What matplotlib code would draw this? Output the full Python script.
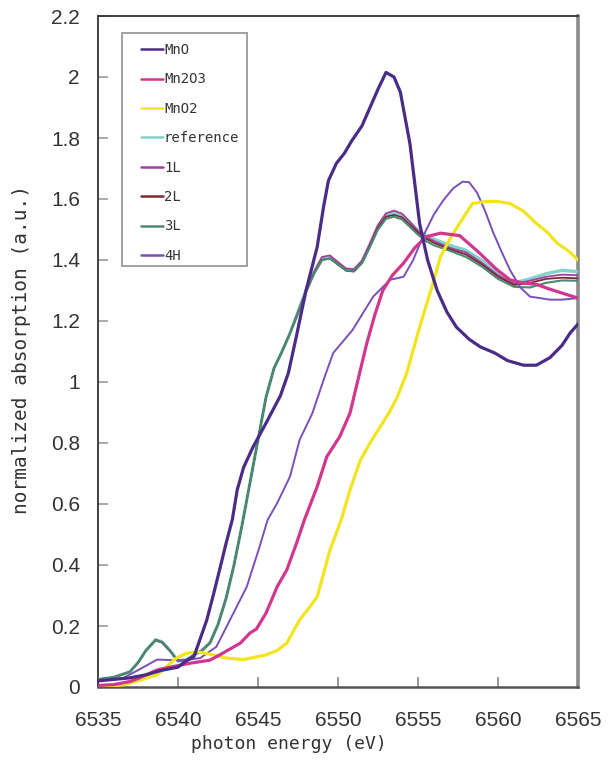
import matplotlib
matplotlib.use("Agg")
import matplotlib.pyplot as plt
from matplotlib.patches import Rectangle

# ---------------- data ----------------
labels = ["MnO", "Mn2O3", "MnO2", "reference", "1L", "2L", "3L", "4H"]

mno_e = [6535, 6536, 6537, 6538, 6539, 6540, 6540.5, 6541, 6541.4, 6541.8, 6542.2, 6542.6, 6543,
         6543.4, 6543.7, 6544.1, 6544.7, 6545.5, 6546.4, 6546.9, 6547.4, 6548, 6548.7, 6549.1,
         6549.4, 6549.9, 6550.4, 6550.85, 6551.5, 6552, 6552.5, 6553, 6553.5, 6553.9, 6554.5,
         6555.1, 6555.6, 6556.2, 6556.8, 6557.4, 6558.2, 6558.9, 6559.8, 6560.6, 6561.6, 6562.4,
         6563.25, 6564, 6564.5, 6565]
mno_y = [0.02, 0.025, 0.03, 0.04, 0.055, 0.065, 0.085, 0.10, 0.16, 0.22, 0.30, 0.384, 0.47,
         0.55, 0.646, 0.72, 0.788, 0.865, 0.955, 1.03, 1.15, 1.30, 1.443, 1.575,
         1.66, 1.717, 1.75, 1.79, 1.84, 1.90, 1.96, 2.015, 2.00, 1.95, 1.78,
         1.52, 1.40, 1.30, 1.23, 1.18, 1.14, 1.115, 1.095, 1.07, 1.055, 1.055,
         1.08, 1.12, 1.16, 1.19]

mn2o3_e = [6535, 6536, 6537, 6537.6, 6538.7, 6539.5, 6540.75, 6542, 6542.6, 6543.9, 6544.5,
           6544.9, 6545.5, 6546.2, 6546.8, 6547.4, 6547.9, 6548.7, 6549.3, 6550.1, 6550.75,
           6551.4, 6551.8, 6552.3, 6552.8, 6553.4, 6554.1, 6554.8, 6555.5, 6556.4, 6557.6,
           6558.7, 6559.9, 6560.75, 6561.5, 6562.4, 6563.2, 6564.1, 6565]
mn2o3_y = [0.005, 0.008, 0.018, 0.03, 0.056, 0.065, 0.078, 0.088, 0.105, 0.144, 0.177,
           0.19, 0.242, 0.329, 0.384, 0.47, 0.548, 0.657, 0.755, 0.82, 0.898,
           1.04, 1.127, 1.22, 1.30, 1.35, 1.39, 1.44, 1.476, 1.488, 1.48,
           1.43, 1.37, 1.335, 1.325, 1.32, 1.305, 1.29, 1.275]

mno2_e = [6535, 6536.6, 6537.5, 6538.7, 6539.9, 6540.5, 6541.2, 6542.2, 6543, 6544.1, 6545.5,
          6546.2, 6546.8, 6547.6, 6548.2, 6548.7, 6549.5, 6550.2, 6550.75, 6551.4, 6552,
          6552.6, 6553.2, 6553.7, 6554.3, 6555.1, 6555.8, 6556.4, 6557, 6557.6, 6558.4,
          6559.3, 6560, 6560.75, 6561.6, 6562.4, 6563.1, 6563.7, 6564.4, 6565]
mno2_y = [0.0, 0.007, 0.02, 0.04, 0.095, 0.11, 0.116, 0.105, 0.095, 0.09, 0.105,
          0.12, 0.144, 0.22, 0.26, 0.296, 0.449, 0.548, 0.646, 0.744, 0.80,
          0.85, 0.90, 0.95, 1.03, 1.18, 1.30, 1.41, 1.47, 1.52, 1.585,
          1.592, 1.592, 1.585, 1.56, 1.52, 1.49, 1.455, 1.43, 1.40]

grp_e = [6535, 6536, 6537, 6537.5, 6538, 6538.6, 6539, 6539.5, 6540, 6540.5, 6541, 6541.5,
         6542, 6542.5, 6543, 6543.5, 6544, 6544.5, 6545, 6545.5, 6546, 6546.5, 6547, 6547.5,
         6548, 6548.5, 6549, 6549.5, 6550, 6550.5, 6551, 6551.5, 6552, 6552.5, 6553, 6553.5,
         6554, 6554.5, 6555, 6555.5, 6556, 6557, 6558, 6559, 6560, 6561, 6562, 6563, 6564, 6565]
ref_y = [0.025, 0.032, 0.05, 0.08, 0.12, 0.155, 0.148, 0.12, 0.085, 0.088, 0.105, 0.12,
         0.145, 0.205, 0.29, 0.40, 0.53, 0.67, 0.81, 0.95, 1.045, 1.10, 1.16, 1.23,
         1.30, 1.36, 1.405, 1.41, 1.39, 1.37, 1.368, 1.395, 1.45, 1.51, 1.548, 1.556,
         1.548, 1.522, 1.497, 1.48, 1.468, 1.448, 1.432, 1.398, 1.355, 1.325, 1.338, 1.355, 1.366, 1.362]
l1_y = [0.025, 0.032, 0.05, 0.08, 0.12, 0.155, 0.148, 0.12, 0.085, 0.088, 0.105, 0.12,
        0.145, 0.205, 0.29, 0.40, 0.53, 0.67, 0.81, 0.95, 1.045, 1.10, 1.16, 1.23,
        1.30, 1.36, 1.41, 1.415, 1.393, 1.372, 1.37, 1.398, 1.455, 1.515, 1.553, 1.562,
        1.552, 1.525, 1.495, 1.475, 1.462, 1.44, 1.425, 1.39, 1.35, 1.322, 1.332, 1.345, 1.352, 1.35]
l2_y = [0.025, 0.032, 0.05, 0.08, 0.12, 0.153, 0.146, 0.118, 0.085, 0.088, 0.105, 0.12,
        0.145, 0.205, 0.29, 0.40, 0.53, 0.67, 0.81, 0.95, 1.045, 1.10, 1.16, 1.225,
        1.295, 1.355, 1.40, 1.405, 1.385, 1.365, 1.362, 1.39, 1.445, 1.505, 1.542, 1.548,
        1.54, 1.515, 1.49, 1.47, 1.456, 1.435, 1.418, 1.385, 1.345, 1.318, 1.325, 1.338, 1.342, 1.34]
l3_y = [0.025, 0.032, 0.05, 0.08, 0.12, 0.153, 0.146, 0.118, 0.085, 0.088, 0.105, 0.12,
        0.145, 0.205, 0.29, 0.40, 0.53, 0.67, 0.81, 0.95, 1.045, 1.10, 1.16, 1.225,
        1.295, 1.355, 1.40, 1.405, 1.385, 1.366, 1.364, 1.39, 1.443, 1.50, 1.535, 1.542,
        1.533, 1.508, 1.483, 1.462, 1.448, 1.43, 1.41, 1.378, 1.338, 1.312, 1.31, 1.325, 1.333, 1.332]

h4_e = [6535, 6536, 6536.6, 6537.6, 6538.7, 6539.7, 6540.75, 6541.4, 6541.8, 6542.4, 6543.25,
        6544.3, 6545.1, 6545.6, 6546.2, 6547, 6547.6, 6548.4, 6549.1, 6549.7, 6550.9, 6552.2,
        6553.25, 6554.1, 6554.7, 6555.3, 6556, 6556.6, 6557.2, 6557.8, 6558.2, 6558.7, 6559.2,
        6559.7, 6560.2, 6560.75, 6561.4, 6562, 6563.25, 6564, 6565]
h4_y = [0.02, 0.025, 0.03, 0.058, 0.09, 0.088, 0.09, 0.095, 0.11, 0.132, 0.22,
        0.329, 0.46, 0.548, 0.603, 0.69, 0.81, 0.898, 1.007, 1.095, 1.17, 1.28,
        1.335, 1.345, 1.40, 1.476, 1.55, 1.597, 1.635, 1.657, 1.655, 1.62, 1.56,
        1.49, 1.43, 1.367, 1.31, 1.28, 1.27, 1.27, 1.275]

x_ticks = [6535, 6540, 6545, 6550, 6555, 6560, 6565]
y_ticks = [0, 0.2, 0.4, 0.6, 0.8, 1.0, 1.2, 1.4, 1.6, 1.8, 2.0, 2.2]
y_ticklabels = ["0", "0.2", "0.4", "0.6", "0.8", "1", "1.2", "1.4", "1.6", "1.8", "2", "2.2"]

# ---------------- figure ----------------
W, H = 612, 762
fig = plt.figure(figsize=(W / 100, H / 100), dpi=100)
L, R, T, B = 98, 578, 16, 687
ax = fig.add_axes([L / W, 1 - B / H, (R - L) / W, (B - T) / H])

series = [
    (mno_e, mno_y, "#4a2c86", 2.3, 8),
    (mn2o3_e, mn2o3_y, "#d2378f", 2.3, 7),
    (mno2_e, mno2_y, "#f2e41e", 2.3, 6),
    (grp_e, ref_y, "#80d4c8", 2.4, 3),
    (grp_e, l1_y, "#a43ea2", 1.3, 4),
    (grp_e, l2_y, "#7a2a34", 1.3, 4),
    (grp_e, l3_y, "#4b8a6f", 1.5, 5),
    (h4_e, h4_y, "#7b50b6", 1.4, 5),
]
lines = []
for (xe, ye, c, lw, z), lab in zip(series, labels):
    ln, = ax.plot(xe, ye, color=c, lw=lw, zorder=z, label=lab,
                  solid_joinstyle="round", solid_capstyle="round")
    lines.append(ln)

ax.set_xlim(6535, 6565)
ax.set_ylim(0, 2.2)
ax.set_xticks(x_ticks)
ax.set_xticklabels([str(v) for v in x_ticks])
ax.set_yticks(y_ticks)
ax.set_yticklabels(y_ticklabels)

for lab in ax.get_xticklabels() + ax.get_yticklabels():
    lab.set_fontfamily("Liberation Sans")
    lab.set_fontsize(15)
    lab.set_color("#333333")
ax.tick_params(axis="x", direction="in", length=7, width=1.2, color="#888888", pad=17)
ax.tick_params(axis="y", direction="in", length=7, width=1.2, color="#999999", pad=13)

ax.spines["left"].set_color("#333333")
ax.spines["left"].set_linewidth(1.3)
ax.spines["top"].set_color("#333333")
ax.spines["top"].set_linewidth(1.3)
ax.spines["bottom"].set_color("#555555")
ax.spines["bottom"].set_linewidth(1.8)
ax.spines["right"].set_color("#8a8a8a")
ax.spines["right"].set_linewidth(2.6)

fig.text(289 / W, 1 - 744 / H, "photon energy (eV)", ha="center", va="center",
         family="DejaVu Sans Mono", fontsize=13, color="#333333")
fig.text(22 / W, 1 - 349 / H, "normalized absorption (a.u.)", ha="center", va="center",
         rotation=90, family="DejaVu Sans Mono", fontsize=14, color="#333333")

# legend frame
fig.patches.append(Rectangle((122 / W, 1 - 266 / H), (247 - 122) / W, (266 - 33) / H,
                             transform=fig.transFigure, fill=True, facecolor="white",
                             edgecolor="#9a9a9a", lw=1.3, zorder=20))
leg = fig.legend(handles=lines, labels=labels, loc="upper left",
                 bbox_to_anchor=(141 / W, 1 - 43 / H), frameon=False,
                 borderpad=0, borderaxespad=0, handlelength=1.55, handletextpad=0.1,
                 labelspacing=1.11, prop=dict(family="DejaVu Sans Mono", size=10))
leg.set_zorder(21)
for t in leg.get_texts():
    t.set_color("#333333")
for h in leg.legend_handles:
    h.set_linewidth(1.8)

fig.savefig("out.png", dpi=100)
